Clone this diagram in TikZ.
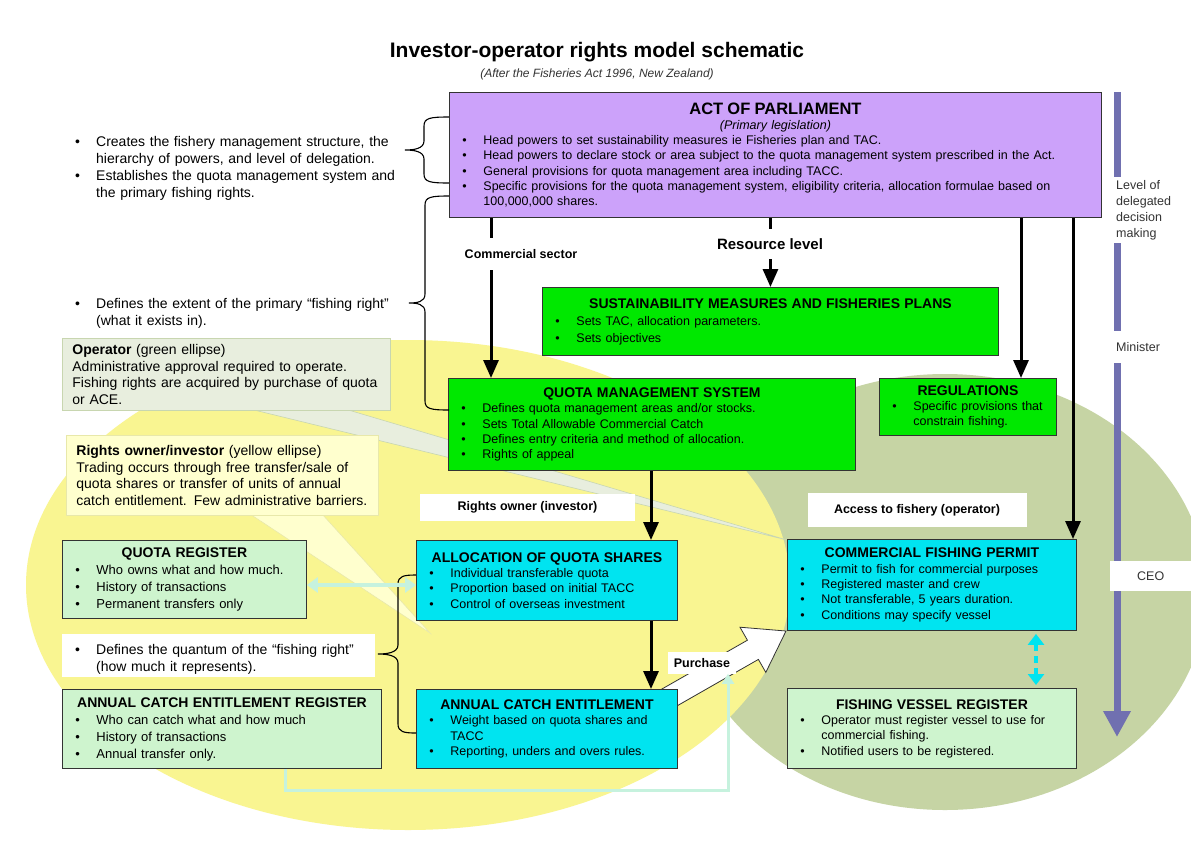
\documentclass[tikz,border=0pt]{standalone}
\usepackage{fontspec}
\setmainfont{Liberation Sans}
\usetikzlibrary{arrows.meta,positioning}

\definecolor{actfill}{RGB}{204,162,250}
\definecolor{boxgreen}{RGB}{0,232,0}
\definecolor{boxcyan}{RGB}{0,228,240}
\definecolor{paleboxgreen}{RGB}{206,244,206}
\definecolor{ellyellow}{RGB}{249,245,145}
\definecolor{ellgreen}{RGB}{198,212,164}
\definecolor{opnote}{RGB}{232,238,222}
\definecolor{opnoteline}{RGB}{200,214,176}
\definecolor{ownnote}{RGB}{255,255,206}
\definecolor{ownnoteline}{RGB}{232,232,170}
\definecolor{mint}{RGB}{198,242,222}
\definecolor{axisblue}{RGB}{112,112,176}

\newcommand{\bul}{\par\hangindent=34pt\hangafter=1\noindent\hbox to 34pt{\hskip 13pt\textbullet\hfil}\ignorespaces}
\newcommand{\boxhead}[1]{{\centering\fontsize{14}{17}\selectfont\bfseries #1\par}}
% edge x, bar x, tip x, top y, bottom y
\newcommand{\sidebrace}[5]{%
\draw[bracepen] (#1,#4) .. controls (#2+6,#4) and (#2,#4+1) .. (#2,#4+9)
  -- (#2,{(#4+#5)/2-9}) .. controls (#2,{(#4+#5)/2-1}) and (#3+8,{(#4+#5)/2}) .. (#3,{(#4+#5)/2})
  .. controls (#3+8,{(#4+#5)/2}) and (#2,{(#4+#5)/2+1}) .. (#2,{(#4+#5)/2+9})
  -- (#2,#5-9) .. controls (#2,#5-1) and (#2+6,#5) .. (#1,#5);}

\begin{document}
\begin{tikzpicture}
[x=1pt,y=-1pt,
panel/.style={draw=black!80, line width=0.9pt, anchor=north west, inner xsep=0pt, inner ysep=0pt, align=left, font=\fontsize{12.5}{15.3}\selectfont},
bignote/.style={align=left, inner xsep=0pt, font=\fontsize{14}{16.8}\selectfont},
callout/.style={anchor=north west, align=left, inner xsep=10pt, inner ysep=0pt, line width=0.8pt, font=\fontsize{14}{16.7}\selectfont},
flow/.style={line width=3pt, -{Triangle[length=18pt,width=15pt]}},
tag/.style={fill=white, inner sep=6pt, font=\fontsize{12.5}{15}\selectfont\bfseries},
levtag/.style={fill=white, anchor=west, align=left, inner xsep=6pt, text=black!80, font=\fontsize{12.5}{16}\selectfont},
bracepen/.style={line width=1.1pt},
minttrack/.style={draw=mint, line width=3pt}]

\useasboundingbox (0,0) rectangle (1191,841);
\fill[white] (0,0) rectangle (1191,841);

% investor and operator ellipses
\fill[ellgreen] (945,592) ellipse [x radius=262pt, y radius=218pt];
\fill[ellyellow] (408,585) ellipse [x radius=382pt, y radius=245pt];

% title
\node[font=\fontsize{21}{25}\selectfont\bfseries] (title) at (597,52) {Investor-operator rights model schematic};
\node[font=\fontsize{12}{14}\selectfont\itshape, text=black!80] (subtitle) at (597,74) {(After the Fisheries Act 1996, New Zealand)};

% callout pointers
\filldraw[fill=opnote, draw=opnoteline, line width=0.6pt] (250,409) -- (787,540) -- (345,409) -- cycle;
\filldraw[fill=ownnote, draw=ownnoteline, line width=0.6pt] (250,514) -- (430,633) -- (322,514) -- cycle;

% purchase arrow
\filldraw[fill=white, draw=black!80, line width=0.8pt] (670.5,709.6) -- (758.4,659.4) -- (765.8,672.4) -- (786,631) -- (740,627.2) -- (747.4,640.2) -- (659.5,690.4) -- cycle;

% callouts
\node[callout, fill=opnote, draw=opnoteline, text width=308pt, minimum height=72pt] (opnote) at (62,338)
{\textbf{Operator} (green ellipse)\\ Administrative approval required to operate.\\ Fishing rights are acquired by purchase of quota\\ or ACE.};
\node[callout, fill=ownnote, draw=ownnoteline, text width=292pt, minimum height=80pt] (ownnote) at (66,435)
{\textbf{Rights owner/investor} (yellow ellipse)\\ Trading occurs through free transfer/sale of\\ quota shares or transfer of units of annual\\ catch entitlement. Few administrative barriers.};

% side notes
\node[bignote, anchor=west, text width=345pt] (notecreate) at (62,165)
{\bul Creates the fishery management structure, the\newline hierarchy of powers, and level of delegation.
 \bul Establishes the quota management system and\newline the primary fishing rights.\par};
\node[bignote, anchor=west, text width=345pt] (noteextent) at (62,310)
{\bul Defines the extent of the primary ``fishing right''\newline (what it exists in).\par};
\node[bignote, anchor=north west, fill=white, text width=313pt, minimum height=43pt] (notequantum) at (62,634)
{\bul Defines the quantum of the ``fishing right''\newline (how much it represents).\par};

% main boxes
\node[panel, fill=actfill, text width=652pt, minimum height=125pt] (act) at (449,92)
{{\centering\fontsize{16.5}{19}\selectfont\bfseries ACT OF PARLIAMENT\par
  \fontsize{12.5}{15}\selectfont\mdseries\itshape (Primary legislation)\par}
 \bul Head powers to set sustainability measures ie Fisheries plan and TAC.
 \bul Head powers to declare stock or area subject to the quota management system prescribed in the Act.
 \bul General provisions for quota management area including TACC.
 \bul Specific provisions for the quota management system, eligibility criteria, allocation formulae based on\newline 100,000,000 shares.\par};
\node[panel, fill=boxgreen, text width=456pt, minimum height=68pt, font=\fontsize{12.5}{17}\selectfont] (smfp) at (542,287)
{\boxhead{SUSTAINABILITY MEASURES AND FISHERIES PLANS}
 \bul Sets TAC, allocation parameters.
 \bul Sets objectives\par};
\node[panel, fill=boxgreen, text width=407pt, minimum height=92pt] (qms) at (448,378)
{\boxhead{QUOTA MANAGEMENT SYSTEM}
 \bul Defines quota management areas and/or stocks.
 \bul Sets Total Allowable Commercial Catch
 \bul Defines entry criteria and method of allocation.
 \bul Rights of appeal\par};
\node[panel, fill=boxgreen, text width=177pt, minimum height=57pt] (reg) at (879,378)
{\boxhead{REGULATIONS}
 \bul Specific provisions that\newline constrain fishing.\par};
\node[panel, fill=boxcyan, text width=261pt, minimum height=80pt] (aqs) at (416,540)
{\boxhead{ALLOCATION OF QUOTA SHARES}
 \bul Individual transferable quota
 \bul Proportion based on initial TACC
 \bul Control of overseas investment\par};
\node[panel, fill=boxcyan, text width=261pt, minimum height=79pt] (ace) at (416,689)
{\boxhead{ANNUAL CATCH ENTITLEMENT}
 \bul Weight based on quota shares and\newline TACC
 \bul Reporting, unders and overs rules.\par};
\node[panel, fill=boxcyan, text width=289pt, minimum height=91pt] (cfp) at (787,539)
{\boxhead{COMMERCIAL FISHING PERMIT}
 \bul Permit to fish for commercial purposes
 \bul Registered master and crew
 \bul Not transferable, 5 years duration.
 \bul Conditions may specify vessel\par};
\node[panel, fill=paleboxgreen, text width=289pt, minimum height=80pt] (fvr) at (787,688)
{\boxhead{FISHING VESSEL REGISTER}
 \bul Operator must register vessel to use for\newline commercial fishing.
 \bul Notified users to be registered.\par};
\node[panel, fill=paleboxgreen, text width=244pt, minimum height=78pt, font=\fontsize{13}{17.3}\selectfont] (qr) at (62,540)
{\boxhead{QUOTA REGISTER}
 \bul Who owns what and how much.
 \bul History of transactions
 \bul Permanent transfers only\par};
\node[panel, fill=paleboxgreen, text width=319pt, minimum height=79pt, font=\fontsize{13}{17}\selectfont] (acer) at (62,689)
{\boxhead{ANNUAL CATCH ENTITLEMENT REGISTER}
 \bul Who can catch what and how much
 \bul History of transactions
 \bul Annual transfer only.\par};

% braces
\sidebrace{449}{424}{405}{117}{183}
\sidebrace{449}{425}{409}{196}{410}
\sidebrace{416}{398}{378}{575}{733}

% flow of powers
\coordinate (csx) at (491,0);
\coordinate (regx) at (1021,0);
\coordinate (cfpx) at (1073,0);
\coordinate (qx) at (651,0);
\draw[flow] (act.south -| csx) -- (qms.north -| csx);
\draw[flow] (act.south -| smfp.north) -- (smfp.north);
\draw[flow] (act.south -| regx) -- (reg.north -| regx);
\draw[flow] (act.south -| cfpx) -- (cfp.north -| cfpx);
\draw[flow] (qms.south -| qx) -- (aqs.north -| qx);
\draw[flow] (aqs.south -| qx) -- (ace.north -| qx);

% labels on the flow
\node[tag, inner ysep=11pt] (lblcommercial) at (521,254) {Commercial sector};
\node[tag, inner ysep=9pt, font=\fontsize{15}{18}\selectfont\bfseries] (lblresource) at (770,244) {Resource level};
\node[tag, minimum width=215pt, minimum height=27pt] (lblowner) at (527.5,507.5) {Rights owner (investor)};
\node[tag, minimum width=219pt, minimum height=34pt] (lblaccess) at (917,510) {Access to fishery (operator)};
\node[tag] (lblpurchase) at (702,663) {Purchase};

% register links
\coordinate (linky) at (0,585);
\coordinate (vesx) at (1036,0);
\coordinate (acerdrop) at (285,790);
\coordinate (purchdrop) at (728,790);
\draw[minttrack, line width=4.5pt, {Triangle[length=11pt,width=15pt]}-{Triangle[length=11pt,width=15pt]}] (qr.east |- linky) -- (aqs.west |- linky);
\draw[minttrack, -{Triangle[length=10pt,width=12pt]}] (acer.south -| acerdrop) -- (acerdrop) -- (purchdrop) -- (purchdrop |- lblpurchase.south);
\draw[draw=boxcyan, line width=3.5pt, dash pattern=on 7pt off 5pt, shorten <=3pt, shorten >=3pt, {Triangle[length=11pt,width=16pt]}-{Triangle[length=11pt,width=16pt]}] (cfp.south -| vesx) -- (fvr.north -| vesx);

% level of delegated decision making
\coordinate (axtop) at (1117,92);
\coordinate (axend) at (1117,737);
\draw[draw=axisblue, line width=7pt, -{Triangle[length=26pt,width=26pt]}] (axtop) -- (axend);
\node[levtag] (lbllevel) at (1110,210) {Level of\\ delegated\\ decision\\ making};
\node[levtag, inner ysep=11pt] (lblminister) at (1110,347) {Minister};
\node[levtag, inner ysep=11pt, minimum width=81pt] (lblceo) at (1110,576) {CEO};
\end{tikzpicture}
\end{document}
